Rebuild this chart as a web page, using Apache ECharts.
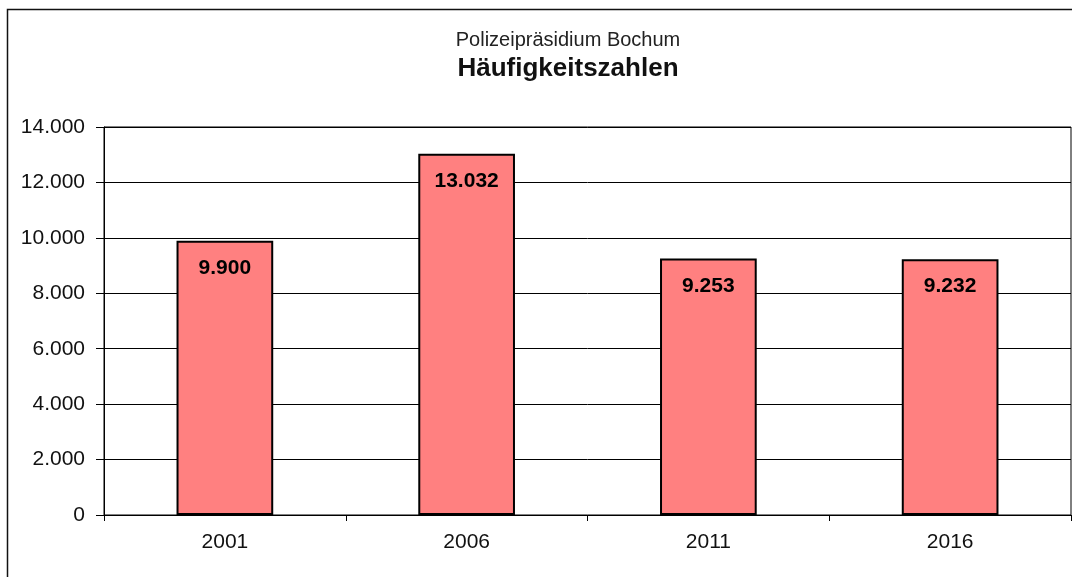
<!DOCTYPE html>
<html>
<head>
<meta charset="utf-8">
<script src="https://cdn.jsdelivr.net/npm/echarts@6/dist/echarts.min.js"></script>
<style>
html,body{margin:0;padding:0;background:#fff;}
#c{width:1072px;height:577px;}
</style>
</head>
<body>
<div id="c"></div>
<script>
var categories = ['2001', '2006', '2011', '2016'];
var values = [9900, 13032, 9253, 9232];
var yTicks = [0, 2000, 4000, 6000, 8000, 10000, 12000, 14000];

function fmt(v) {
  return String(v).replace(/\B(?=(\d{3})+(?!\d))/g, '.');
}

var chart = echarts.init(document.getElementById('c'), null, {renderer: 'canvas'});
var font = '"Liberation Sans", Arial, sans-serif';
chart.setOption({
  animation: false,
  backgroundColor: '#fff',
  textStyle: {fontFamily: font},
  graphic: [{
    type: 'rect',
    shape: {x: 7.5, y: 9.5, width: 1100, height: 620},
    style: {fill: 'none', stroke: '#111', lineWidth: 1.5},
    silent: true
  }],
  title: [{
    text: 'Polizeipräsidium Bochum',
    left: 563, top: 25, textAlign: 'center',
    textStyle: {fontSize: 20, fontWeight: 'normal', color: '#222', fontFamily: font}
  }, {
    text: 'Häufigkeitszahlen',
    left: 563, top: 51, textAlign: 'center',
    textStyle: {fontSize: 26, fontWeight: 'bold', color: '#111', fontFamily: font}
  }],
  grid: {left: 104, right: 1, top: 127, bottom: 62, show: true, borderColor: '#000', borderWidth: 1},
  xAxis: {
    type: 'category',
    data: categories,
    axisLine: {lineStyle: {color: '#000', width: 1}},
    axisTick: {show: true, length: 6, lineStyle: {color: '#000'}},
    axisLabel: {fontSize: 21, color: '#111', margin: 17, fontFamily: font},
    splitLine: {show: false}
  },
  yAxis: {
    type: 'value',
    min: 0, max: 14000, interval: 2000,
    axisLine: {show: true, lineStyle: {color: '#000', width: 1}},
    axisTick: {show: true, length: 8, inside: false, lineStyle: {color: '#000'}},
    axisLabel: {fontSize: 21, color: '#111', margin: 19, fontFamily: font,
      formatter: function (v) { return yTicks.indexOf(v) >= 0 ? fmt(v) : ''; }},
    splitLine: {show: true, lineStyle: {color: '#000', width: 1}}
  },
  series: [{
    type: 'bar',
    data: values,
    barWidth: '40%',
    itemStyle: {color: '#FF8080', borderColor: '#000', borderWidth: 2},
    label: {
      show: true, position: 'insideTop', distance: 17,
      fontSize: 21, fontWeight: 'bold', color: '#000', fontFamily: font,
      formatter: function (p) { return fmt(p.value); }
    }
  }]
});
</script>
</body>
</html>
